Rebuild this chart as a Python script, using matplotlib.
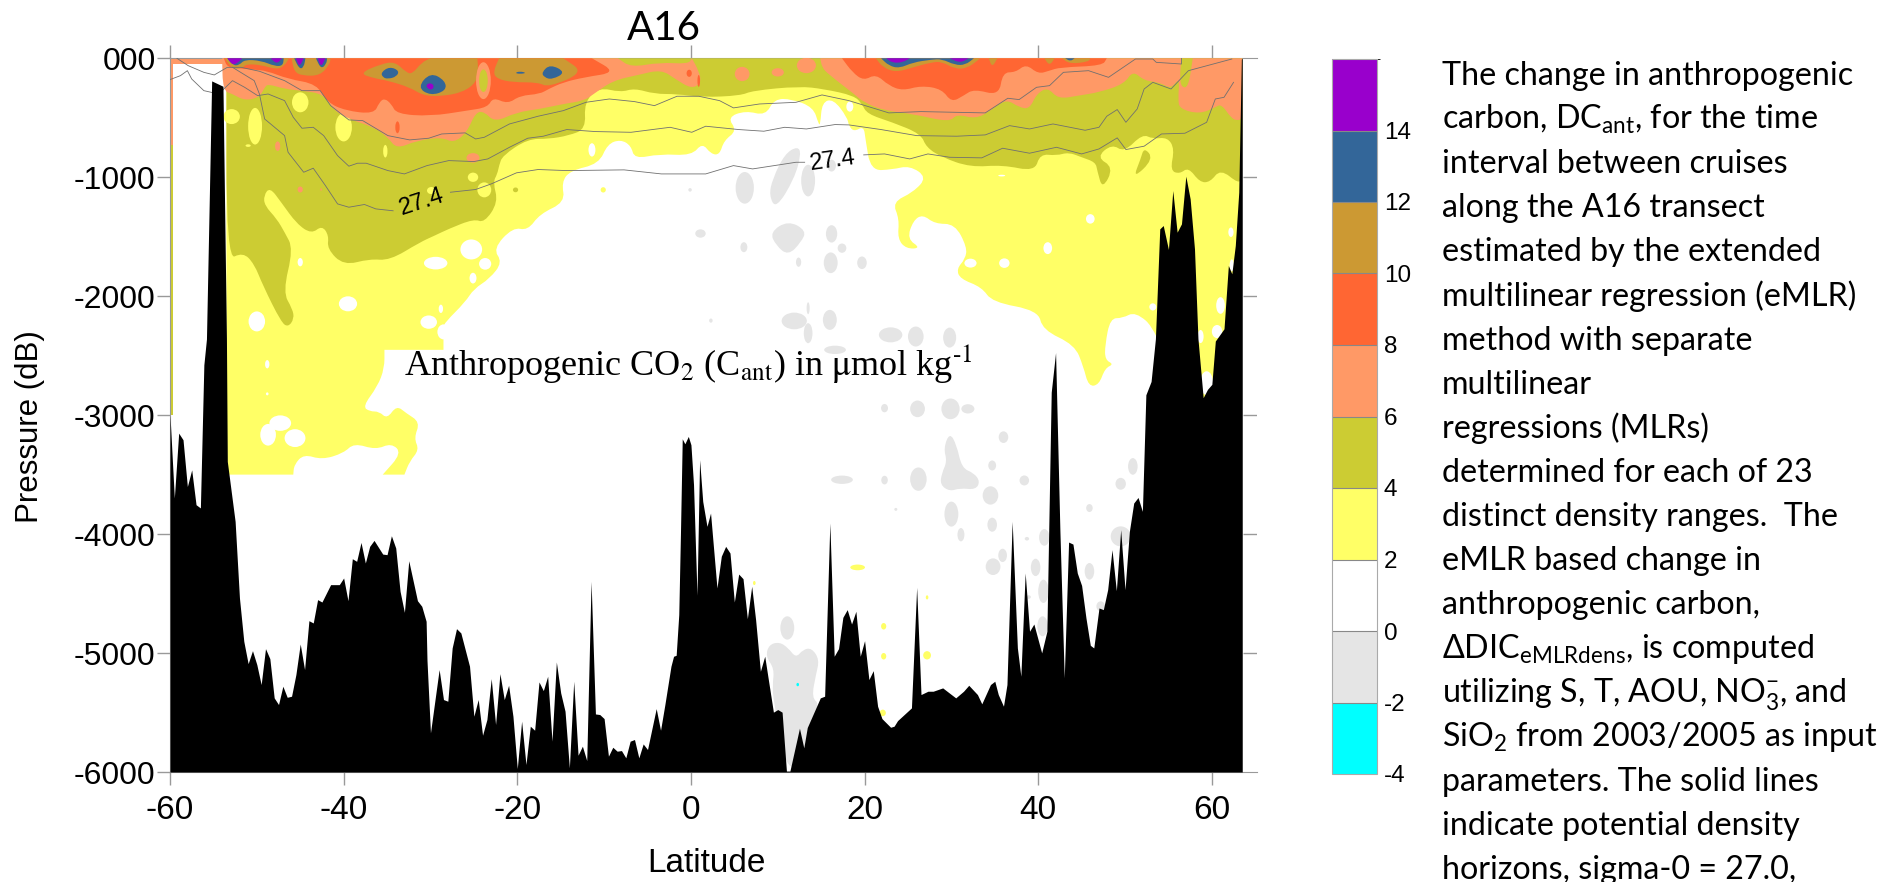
import matplotlib
matplotlib.use("Agg")
import matplotlib.pyplot as plt
import matplotlib as mpl
from matplotlib.colors import ListedColormap, BoundaryNorm
from matplotlib.patches import Ellipse, PathPatch
from matplotlib.path import Path

plt.rcParams['mathtext.fontset'] = 'custom'
plt.rcParams['mathtext.rm'] = 'Lato'
plt.rcParams['mathtext.it'] = 'Lato'
plt.rcParams['mathtext.default'] = 'rm'
plt.rcParams['axes.unicode_minus'] = False

# colour classes, -4 to 16 in steps of 2
levels = [-4, -2, 0, 2, 4, 6, 8, 10, 12, 14, 16]
colors = ['#00FFFF', '#E5E5E5', '#FFFFFF', '#FFFF66', '#CCCC33',
          '#FF9966', '#FF6633', '#CC9933', '#336699', '#9900CC']
CYAN, GRAY, WHITE, YELLOW, OLIVE, LORANGE, RED, BROWN, BLUE, PURPLE = colors

x_ticks = [-60, -40, -20, 0, 20, 40, 60]
y_ticks = [0, -1000, -2000, -3000, -4000, -5000, -6000]
y_labels = ['000', '-1000', '-2000', '-3000', '-4000', '-5000', '-6000']
cbar_ticks = [-4, -2, 0, 2, 4, 6, 8, 10, 12, 14]

# sea floor (latitude, pressure)
bottom = [(-60, -3000), (-59.5, -3697), (-59, -3151), (-58.5, -3207), (-58, -3600), (-57.5, -3460),
          (-57, -3753), (-56.5, -3780), (-56.1, -2577), (-55.8, -2360), (-55.2, -190), (-53.9, -235),
          (-53.5, -2355), (-53.4, -3389), (-52.5, -3893), (-52, -4537), (-51.5, -4901), (-51, -5089),
          (-50.5, -4980), (-50, -5097), (-49.5, -5265), (-49, -4963), (-48.5, -5047), (-48, -5377),
          (-47.5, -5433), (-47, -5279), (-46.5, -5372), (-46, -5363), (-45.5, -5181), (-45, -4924),
          (-44.5, -5139), (-44, -4728), (-43.5, -4747), (-43, -4551), (-42.5, -4571), (-41.5, -4425),
          (-40.5, -4425), (-40, -4369), (-39.5, -4560), (-39, -4207), (-38.5, -4229), (-38, -4070),
          (-37.5, -4243), (-37, -4103), (-36.5, -4053), (-35.5, -4168), (-35, -4173), (-34.5, -4014),
          (-34, -4117), (-33.5, -4481), (-33, -4658), (-32.5, -4224), (-31.5, -4560), (-31, -4607),
          (-30.5, -4733), (-30.4, -5060), (-30, -5671), (-29, -5139), (-28.5, -5391), (-28, -5405),
          (-27.5, -4957), (-27, -4795), (-26.5, -4831), (-25.5, -5111), (-25, -5531), (-24.5, -5391),
          (-24, -5691), (-23.5, -5559), (-23, -5215), (-22.5, -5601), (-22, -5173), (-21.5, -5391),
          (-21, -5271), (-20.5, -5531), (-20, -5971), (-19.5, -5573), (-19, -5937), (-18.5, -5615),
          (-18, -5649), (-17.5, -5243), (-17, -5316), (-16.5, -5195), (-16, -5741), (-15.5, -5075),
          (-15, -5335), (-14.5, -5489), (-14, -5965), (-13.5, -5237), (-13, -5859), (-12.5, -5783),
          (-12, -5904), (-11.5, -4397), (-11, -5512), (-10.5, -5517), (-10, -5551), (-9.5, -5867),
          (-9, -5792), (-8.5, -5825), (-8, -5820), (-7.5, -5881), (-7, -5741), (-6.5, -5727),
          (-6, -5881), (-5.5, -5764), (-5, -5811), (-4, -5467), (-3.5, -5649), (-3, -5433),
          (-2.3, -5111), (-2, -5027), (-1.7, -5019), (-1.4, -4677), (-1.2, -3977), (-1, -3199),
          (-0.7, -3241), (-0.3, -3179), (0, -3249), (0.3, -3585), (0.7, -4515), (1, -3375),
          (1.36, -3725), (1.85, -3935), (2.26, -3823), (3, -4453), (3.5, -4186), (4, -4103),
          (4.5, -4159), (5, -4571), (5.5, -4336), (6, -4375), (6.5, -4711), (7, -4439),
          (7.45, -4719), (8, -5153), (8.5, -5027), (9.5, -5497), (10, -5475), (10.5, -5497),
          (11, -5992), (11.4, -5992), (12.5, -5632), (13, -5797), (13.4, -5626), (14.9, -5377),
          (15.4, -5363), (16, -3907), (16.5, -5027), (17, -4963), (17.5, -4700), (18, -4635),
          (18.5, -4756), (19, -4649), (19.5, -5027), (20, -4896), (20.5, -5223), (21, -5148),
          (21.5, -5447), (22, -5551), (23, -5624), (23.4, -5615), (23.8, -5568), (25.4, -5461),
          (26, -4448), (26.5, -5349), (27.3, -5321), (27.9, -5321), (29, -5293), (30.5, -5377),
          (31.4, -5321), (32, -5271), (33, -5349), (33.5, -5427), (34.5, -5265), (35, -5237),
          (35.4, -5349), (36, -5447), (36.4, -5265), (37, -3893), (37.6, -4957), (38, -5195),
          (38.5, -4327), (39, -4817), (39.5, -4756), (40.4, -4999), (41, -4817), (41.5, -2807),
          (42, -2474), (42.5, -3977), (43, -5209), (43.5, -4067), (44, -4084), (44.5, -4327),
          (45, -4432), (45.5, -4705), (46, -4935), (46.4, -4957), (47, -4621), (47.5, -4635),
          (48, -4467), (48.5, -4131), (49, -4476), (49.5, -3963), (50, -4467), (50.5, -3977),
          (51, -3739), (51.5, -3692), (52, -3809), (52.4, -2829), (53, -2717), (53.5, -2358),
          (54, -1434), (54.4, -1406), (55, -1607), (55.5, -1112), (56, -1462), (56.5, -1392),
          (57, -991), (57.5, -1182), (58, -1602), (58.4, -2358), (59, -2853), (59.5, -2783),
          (60, -2741), (60.4, -2377), (61.4, -2274), (61.9, -1742), (62.3, -1812), (62.7, -1574),
          (63.1, -1126), (63.4, -6), (63.5, 0)]

# outer edges of each class
yellow_edge = [(-53.5, 0), (-53.5, -3500), (-45.8, -3500), (-45.7, -3417), (-44.6, -3328), (-42.5, -3375),
               (-40, -3319), (-38.8, -3235), (-36.3, -3291), (-34.5, -3235), (-33.3, -3319), (-35.5, -3500),
               (-33, -3500), (-32.4, -3389), (-31.3, -3291), (-31.9, -3193), (-31.2, -3059), (-32.8, -2983),
               (-33.9, -2919), (-35, -3031), (-35.9, -2969), (-37, -2969), (-37.8, -2927), (-36.1, -2759),
               (-35.3, -2605), (-35.3, -2451), (-28.5, -2451), (-28.5, -2260), (-28.3, -2218), (-26, -2050),
               (-25, -1938), (-23.2, -1854), (-21.7, -1714), (-22.8, -1602), (-20.5, -1420), (-18.8, -1448),
               (-17.4, -1308), (-14.5, -1210), (-14.9, -1042), (-13.9, -944), (-10.6, -888), (-9.6, -720),
               (-8.1, -683), (-6.9, -734), (-6.5, -846), (-3.6, -804), (0.1, -818), (1.3, -711), (2.3, -804),
               (3.3, -812), (3.8, -692), (5.3, -608), (4.2, -496), (6.3, -440), (8.6, -482), (9.6, -342),
               (11.6, -342), (14.1, -412), (14.7, -552), (14.9, -560), (15.1, -370), (16.4, -342), (18, -496),
               (18.2, -571), (18.8, -616), (19.9, -571), (20.1, -678), (20.7, -944), (23.2, -935), (25.2, -902),
               (27.2, -1000), (25.6, -1126), (23.2, -1210), (24, -1350), (23.8, -1518), (24.8, -1602),
               (26.5, -1596), (24.9, -1518), (25.6, -1364), (26.7, -1313), (28.1, -1392), (30.4, -1392),
               (31.8, -1588), (31.6, -1686), (30.6, -1770), (31, -1854), (33.5, -1924), (34.7, -2050),
               (40, -2120), (40.5, -2283), (44.2, -2409), (45.2, -2591), (45.8, -2759), (47, -2745),
               (47.7, -2605), (48.7, -2572), (47.7, -2535), (47.7, -2409), (48.3, -2185), (49.7, -2185),
               (51.2, -2129), (53.6, -2283), (57, -3000), (62, -3000), (63.5, -1000), (63.5, 0)]

olive_edge = [(-53.5, 0), (-53.5, -1700), (-51.6, -1630), (-50.3, -1728), (-49.3, -1910), (-47.2, -2218),
              (-46.4, -2260), (-45.7, -2190), (-45.9, -2106), (-47, -1966), (-45.8, -1602), (-46.8, -1462),
              (-47.7, -1350), (-49.1, -1238), (-49.2, -1154), (-48.5, -1084), (-47.2, -1210), (-45.4, -1392),
              (-43.7, -1476), (-42.5, -1406), (-41.7, -1490), (-41.9, -1602), (-40, -1742), (-37, -1686),
              (-34.7, -1700), (-31.2, -1546), (-29.5, -1490), (-27.9, -1434), (-25, -1350), (-23.8, -1383),
              (-22.2, -1210), (-22.8, -1042), (-22.3, -972), (-22.1, -902), (-21.7, -818), (-18.8, -678),
              (-16.4, -678), (-14.1, -650), (-12.1, -594), (-12.3, -370), (-10.6, -244), (-8.1, -286),
              (-6.5, -252), (-4.2, -300), (-1.6, -300), (1.3, -328), (5.7, -314), (7.1, -272), (12.5, -235),
              (15.3, -258), (18.8, -314), (19.7, -384), (20.3, -468), (23.2, -538), (26.5, -636), (27.1, -748),
              (28.9, -832), (32.2, -916), (35.9, -896), (39.6, -952), (40.2, -804), (42.1, -818), (43.5, -790),
              (45, -832), (46.6, -874), (46.8, -944), (47.4, -1103), (48.7, -916), (46.7, -832), (48.5, -720),
              (49.9, -790), (52, -636), (53.2, -678), (54.9, -664), (55.7, -762), (55.2, -944), (56.3, -972),
              (57.3, -916), (58.6, -1042), (59.8, -1042), (61, -930), (63.1, -1056), (63.5, -1000), (63.5, 0)]
olive_patch = [(52.2, -748), (53.3, -846), (50.9, -1014), (51.8, -846)]
olive_strip = [(56.5, 0), (57.8, 0), (57.3, -244), (56.5, -244), (56.3, -160)]

lorange_west = [(-54, 0), (-53.9, -272), (-52.8, -300), (-51.4, -356), (-49.7, -328), (-49.1, -244), (-48.7, -216),
                (-46.8, -258), (-44.8, -272), (-42.3, -300), (-41.1, -440), (-39.4, -510), (-36.5, -580),
                (-34.9, -664), (-33.9, -762), (-31.6, -692), (-28.7, -664), (-27.3, -711), (-25.8, -622),
                (-24.8, -454), (-23.8, -448), (-22.6, -538), (-20.1, -454), (-17.4, -426), (-14.7, -384),
                (-12.3, -356), (-11.2, -300), (-9, -188), (-6.1, -140), (-3.4, -95), (-1.8, -174), (0.1, -258),
                (1.2, -202), (0.9, -104), (0.1, 0), (-0.3, -48), (-3.6, -34), (-6.9, -76), (-8.4, 0)]
lorange_east = [(14.9, 0), (15.1, -76), (15.8, -132), (18.8, -300), (19.9, -370), (22.3, -440), (25.6, -468),
                (29.8, -538), (30.6, -468), (32.8, -510), (34.5, -440), (36.3, -342), (37.8, -412), (39, -426),
                (39.8, -300), (41.1, -244), (42.3, -342), (44.6, -314), (47, -286), (49.9, -216), (50.9, -104),
                (52.2, -188), (54, -202), (55.3, -258), (56.3, -160), (56.1, -342), (56.3, -426), (58.6, -468),
                (60.4, -412), (61.1, -384), (62.3, -510), (63.1, -524), (63.5, -500), (63.5, 0)]

red_west = [(-53.8, 0), (-53.4, -76), (-52, -84), (-50.5, -95), (-48.9, -104), (-46.4, -174), (-43.1, -216),
            (-41.9, -370), (-39.8, -440), (-36.5, -468), (-35.9, -370), (-35.3, -336), (-34.5, -384), (-33.9, -468),
            (-30, -487), (-25.8, -440), (-23.4, -412), (-22.8, -328), (-21.1, -384), (-19.7, -314), (-17.4, -300),
            (-16.4, -258), (-14.7, -202), (-12.3, -160), (-8.6, -118), (-11.4, 0)]
red_east = [(17.4, 0), (18.6, -118), (19.9, -188), (21.3, -132), (22.8, -230), (24.4, -272), (26.5, -230),
            (28.9, -258), (30, -370), (31.4, -314), (32.6, -258), (35.5, -314), (35.9, -118), (37.4, -118),
            (38.6, -48), (40, -132), (41.3, -104), (42.5, -76), (47.4, -62), (47.9, 0)]

brown_areas = [
    [(-53.7, 0), (-52.8, -90), (-51.7, -84), (-51.2, -48), (-49.5, -56), (-47.7, -95), (-46.8, -62), (-46.3, 0)],
    [(-46, 0), (-45.7, -112), (-44.8, -146), (-42.7, -146), (-41.6, -48), (-41.5, 0)],
    [(-38.2, -126), (-35.7, -48), (-34.1, -28), (-32.8, -118), (-32.1, -132), (-31, -34), (-30, 0), (-24.6, 0),
     (-24.5, -90), (-24.7, -202), (-26.3, -286), (-28.7, -319), (-30.8, -314), (-32.4, -244), (-34.9, -188), (-36.5, -168)],
    [(-22.1, 0), (-14.7, 0), (-12.3, -118), (-16.4, -244), (-17.6, -202), (-20.5, -202), (-22.3, -174), (-22.8, -118)],
    [(21.3, 0), (22.1, -76), (23.6, -118), (25.6, -76), (27.7, -34), (28.9, -28), (30.4, -90), (31.8, -84), (33, -20), (33.3, 0)],
    [(34.3, 0), (34.7, -76), (35.3, 0)],
    [(40.7, 0), (41.3, -62), (41.9, 0)],
    [(42.7, 0), (43.7, -48), (45.8, -28), (46, 0)],
]
blue_areas = [
    [(-53.4, 0), (-52.7, -62), (-52, -56), (-51.4, -11), (-49.5, -20), (-47.9, -67), (-47, -62), (-46.9, 0)],
    [(-45.7, 0), (-45.1, -90), (-44.6, -76), (-44.4, 0)],
    [(-43.2, 0), (-42.6, -90), (-42, -48), (-41.9, 0)],
    [(-35.7, -118), (-34.7, -70), (-33.6, -104), (-33.9, -154), (-34.9, -174), (-35.5, -160)],
    [(-31.5, -244), (-30, -118), (-28.3, -188), (-28.2, -272), (-30, -314)],
    [(-20.3, -123), (-19.7, -109), (-18.9, -123), (-19.7, -132)],
    [(-17.2, -118), (-16.2, -50), (-14.4, -118), (-16, -179), (-16.9, -160)],
    [(21.9, 0), (22.8, -62), (24, -84), (25.6, -34), (27.7, -11), (28.9, -6), (30.4, -56), (31.6, -56), (32.6, 0)],
    [(43.1, 0), (43.7, -25), (44.2, 0)],
]
purple_areas = [
    [(-53.4, 0), (-52.8, -56), (-52.2, -39), (-51.7, 0)],
    [(-48.4, 0), (-47.7, -48), (-47.1, 0)],
    [(-45.5, 0), (-45.1, -76), (-44.6, 0)],
    [(-43, 0), (-42.6, -76), (-42.1, 0)],
    [(-30.6, -230), (-30, -202), (-29.5, -238), (-30, -272)],
    [(22.5, 0), (23.2, -39), (24.4, -34), (25.2, 0)],
    [(29.8, 0), (31, -39), (32, 0)],
]
gray_areas = [
    [(12.3, -739), (12.7, -804), (11.9, -1014), (9.8, -1266), (9, -1154), (9.4, -1014), (10.8, -804)],
    [(9.1, -1462), (11.2, -1364), (13.3, -1448), (12.7, -1546), (11.2, -1658), (9.8, -1574)],
    [(29.8, -3146), (30.6, -3249), (31.2, -3445), (32.6, -3487), (33.3, -3557), (32.8, -3627), (31, -3613),
     (29.8, -3641), (28.7, -3585), (28.9, -3487), (29.5, -3389), (29.1, -3277)],
    [(8.6, -5027), (9, -4929), (10.2, -4907), (11.2, -4957), (12.1, -5041), (12.9, -4971), (13.9, -4957),
     (14.8, -5055), (14.4, -5181), (13.9, -5377), (14.9, -5433), (13, -5900), (11, -6000), (9.5, -5400),
     (9.4, -5270), (9.6, -5130)],
]

# small closed patches (latitude, pressure, width in degrees, height in dB)
white_spots = [(-11.4, -770, .8, 112), (-25.3, -1607, 2.5, 168), (-29.4, -1722, 2.7, 106), (-23.7, -1728, 1.4, 98),
               (-25.1, -1848, .8, 90), (-39.5, -2064, 2.1, 126), (-50, -2212, 1.9, 168), (-45, -1714, .6, 70),
               (-30.2, -2218, 1.9, 112), (-28.8, -2106, .5, 70), (-28.5, -2300, 1.4, 126), (-48.8, -2572, .5, 70),
               (-48.8, -2821, .3, 25), (-48.7, -3165, 1.8, 182), (-47.3, -3067, 2.5, 130), (-45.6, -3193, 2.4, 150),
               (18.3, -406, .8, 85), (35.8, -986, .8, 14), (46, -1350, 1, 80), (41.1, -1596, 1, 100),
               (36.1, -1722, 1.2, 80), (32.2, -1722, 1.4, 75), (62.2, -1462, .6, 80), (62.3, -1740, .5, 100),
               (53.2, -2090, .8, 60), (61, -2078, 1, 140), (58.7, -2339, .7, 110), (60.6, -2297, 1.2, 110),
               (59.4, -2731, 1.5, 200)]
yellow_spots = [(-45, -370, 1.9, 168), (-52.9, -490, 1.9, 126), (-50.2, -571, 1.6, 308), (-40, -580, 1.9, 238),
                (-35.2, -781, .5, 106), (-51, -734, .6, 22), (-25.1, -1000, 1.2, 78), (-23.8, -1106, 1.6, 126),
                (-29.9, -1112, 1, 60), (-10.1, -1106, .6, 45), (7.3, -4411, .3, 35), (19.2, -4280, 1.7, 48),
                (22.2, -4775, .6, 55), (22.2, -5027, .6, 55), (27.2, -5019, .9, 70), (27.2, -4532, .3, 35),
                (22.1, -5503, .7, 55)]
olive_spots = [(-50.3, -1616, .7, 84), (-20.2, -1106, .6, 40), (60.9, -2440, .7, 150), (-23.9, -188, 1, 190)]
lorange_spots = [(-47.6, -739, .6, 80), (-45, -1103, .6, 50), (-25.1, -837, 1.5, 80), (-42.6, -1103, .2, 20),
                 (5.9, -132, 1.7, 120), (10, -118, 1.4, 70), (13.3, -60, 2.2, 130), (-23.9, -188, 1.7, 310)]
red_spots = [(-0.2, -126, .6, 60), (-33.8, -580, .5, 100), (0.9, -190, .3, 100)]
gray_spots = [(-0.1, -1106, .4, 30), (1.1, -1473, 1.2, 70), (6.2, -1089, 2.1, 266), (13.5, -1028, 1.6, 266),
              (16.2, -902, 1, 100), (16.2, -1476, 1.3, 146), (17.4, -1596, 1, 78), (16.1, -1719, 1.6, 174),
              (19.7, -1719, 1.1, 106), (6.1, -1588, .8, 84), (12.4, -1714, .6, 78), (11.9, -2208, 2.9, 140),
              (13.5, -2101, .35, 100), (13.5, -2311, 1, 168), (16, -2199, 1.6, 168), (2.3, -2205, .4, 35),
              (23, -2325, 2.7, 126), (25.9, -2339, 1.8, 168), (29.8, -2348, 1.5, 168), (16.6, -2451, 2.5, 70),
              (22.3, -2941, .8, 70), (26.1, -2947, 1.7, 140), (29.9, -2947, 2.1, 174), (31.9, -2947, 1.5, 78),
              (36, -3185, 1.1, 98), (17.4, -3543, 2.5, 70), (22.3, -3546, .75, 73), (26.2, -3538, 1.9, 196),
              (34.7, -3423, .9, 84), (38.4, -3549, 1.1, 84), (34.5, -3675, 1.8, 154), (30, -3832, 1.6, 210),
              (23.6, -3792, .35, 25), (34.7, -3921, 1.1, 118), (31.1, -4005, .8, 112), (35.9, -4179, 1, 112),
              (34.8, -4274, 1.7, 140), (39.7, -4280, 1.1, 146), (38.7, -4039, .5, 30), (40.7, -4028, 1.2, 140),
              (50.9, -3431, 1.1, 140), (49.5, -3577, 1.2, 100), (45.9, -3781, .75, 67), (49.5, -4019, 2.3, 168),
              (45.9, -4313, 1.1, 140), (40.6, -4481, 1.2, 196), (40.5, -4775, 1.2, 168), (47.2, -4607, 1, 84),
              (38.9, -4529, .5, 30), (11.1, -4789, 1.6, 196)]
cyan_spots = [(12.3, -5265, .3, 28)]

# potential density horizons
sigma_a = [(-59.2, 0), (-57.9, -62), (-56.1, -118), (-54.9, -140), (-53.4, -76), (-51.8, -76), (-49.7, -109), (-46.8, -188),
           (-44.8, -272), (-42.7, -272), (-41.5, -398), (-39.4, -518), (-37.8, -524), (-34.9, -650), (-32.4, -686),
           (-30.2, -672), (-28.7, -636), (-26, -627), (-24.8, -678), (-23.8, -664), (-20.9, -552), (-17.6, -487),
           (-14.7, -440), (-12.1, -370), (-9.4, -342), (-6.5, -364), (-4.2, -398), (-1.6, -319), (0.9, -319), (3.3, -356),
           (4.9, -417), (7.9, -384), (12.1, -370), (15.1, -308), (18.2, -356), (22.8, -459), (26.5, -448), (33.9, -459),
           (36.5, -336), (37.8, -347), (39.8, -244), (41.3, -230), (42.9, -118), (45.8, -104), (48.1, -160), (51.2, -6),
           (53.2, -6), (53.6, -34), (56.5, -48), (56.5, 0)]
sigma_b = [(-60, -179), (-58.8, -146), (-58, -104), (-57.5, -174), (-56.1, -272), (-54.4, -300), (-52.8, -188), (-51.4, -244),
           (-49.9, -314), (-48.7, -300), (-46.8, -356), (-45.8, -496), (-44.8, -588), (-43.5, -580), (-42.3, -650), (-40.7, -818),
           (-39.4, -907), (-38.4, -882), (-37.4, -882), (-34.9, -944), (-33, -972), (-30.4, -902), (-27.9, -860), (-25, -868),
           (-23.4, -846), (-20.9, -748), (-18.8, -672), (-17, -655), (-14.3, -599), (-11, -616), (-6.9, -622), (-2.4, -580),
           (0.1, -622), (1.7, -571), (5.5, -599), (8.4, -613), (10.8, -580), (13.3, -594), (16.6, -557), (18.2, -560), (21.9, -599),
           (26, -650), (30.6, -655), (33.9, -644), (36.7, -566), (39, -594), (41.7, -552), (45.4, -605), (47, -580), (47.9, -487),
           (49.1, -431), (50.1, -538), (51.4, -426), (52.2, -258), (53.2, -202), (55.3, -258), (57.3, -104), (62.3, -6)]
sigma_c1 = [(-52.8, -76), (-50.3, -188), (-49.7, -300), (-49.1, -510), (-46.8, -650), (-46.4, -790), (-44.6, -958), (-43.5, -924),
            (-42.1, -1070), (-40.7, -1224), (-39.4, -1252), (-37.6, -1229), (-36.3, -1266), (-34.3, -1282)]
sigma_c2 = [(-27.7, -1126), (-24.8, -1103), (-23, -1056), (-20.1, -963), (-17.6, -935), (-14.3, -944), (-7.7, -938), (-3.4, -972),
            (1.7, -972), (4.9, -902), (7.1, -930), (12.1, -874), (13.1, -874)]
sigma_c3 = [(19.9, -812), (22.3, -804), (25.2, -846), (27.3, -804), (29.8, -832), (33.5, -837), (35.9, -756), (39, -798),
            (42.1, -748), (45, -804), (47, -762), (49.1, -669), (50.1, -767), (52.2, -739), (54.2, -636), (56.9, -630),
            (59.4, -538), (60.4, -342), (61.4, -328), (62.5, -202)]

caption = ['The change in anthropogenic',
           'carbon, DC$_{ant}$, for the time',
           'interval between cruises',
           'along the A16 transect',
           'estimated by the extended',
           'multilinear regression (eMLR)',
           'method with separate',
           'multilinear',
           'regressions (MLRs)',
           'determined for each of 23',
           'distinct density ranges.  The',
           'eMLR based change in',
           'anthropogenic carbon,',
           '\u0394DIC$_{eMLRdens}$, is computed',
           'utilizing S, T, AOU, NO$_3^{-}$, and',
           'SiO$_2$ from 2003/2005 as input',
           'parameters. The solid lines',
           'indicate potential density',
           'horizons, sigma-0 = 27.0,']

# edges stay sharp where the section itself is cut off
SHARP = (0, -3500, -2451)


def area(ax, pts, color, zorder=1):
    # closed outline, rounded with quadratic curves through the edge midpoints
    n = len(pts)
    mid = [((pts[i][0] + pts[(i + 1) % n][0]) / 2, (pts[i][1] + pts[(i + 1) % n][1]) / 2) for i in range(n)]
    verts = [mid[-1]]
    codes = [Path.MOVETO]
    for i in range(n):
        if pts[i][1] in SHARP:
            verts += [pts[i], mid[i]]
            codes += [Path.LINETO, Path.LINETO]
        else:
            verts += [pts[i], mid[i]]
            codes += [Path.CURVE3, Path.CURVE3]
    ax.add_patch(PathPatch(Path(verts, codes), facecolor=color, edgecolor='none', lw=0, zorder=zorder))


def spots(ax, items, color, zorder):
    for lat, p, w, h in items:
        ax.add_patch(Ellipse((lat, p), w, h, color=color, lw=0, zorder=zorder))


W, H = 1904, 882
fig = plt.figure(figsize=(W / 100, H / 100), dpi=100)
ax = fig.add_axes([170 / W, 1 - 772 / H, (1257 - 170) / W, (772 - 58.3) / H])

# left hand data column and the shallow band above the empty box
ax.fill_between([-60, -59.7], -3000, 0, color=OLIVE, lw=0, zorder=1)
ax.fill_between([-60, -59.7], -733, 0, color=LORANGE, lw=0, zorder=1.1)
ax.fill_between([-60, -53.5], -50, 0, color=LORANGE, lw=0, zorder=1.1)

area(ax, yellow_edge, YELLOW, 2)
spots(ax, white_spots, WHITE, 2.1)
spots(ax, yellow_spots, YELLOW, 3.1)
area(ax, olive_edge, OLIVE, 3)
area(ax, olive_patch, OLIVE, 3)
spots(ax, olive_spots[:3], OLIVE, 3.2)
area(ax, lorange_west, LORANGE, 4)
area(ax, lorange_east, LORANGE, 4)
spots(ax, lorange_spots[:7], LORANGE, 4.1)
area(ax, olive_strip, OLIVE, 4.2)
area(ax, red_west, RED, 5)
area(ax, red_east, RED, 5)
spots(ax, red_spots, RED, 5.1)
for pts in brown_areas:
    area(ax, pts, BROWN, 6)
spots(ax, lorange_spots[7:], LORANGE, 6.1)
spots(ax, olive_spots[3:], OLIVE, 6.2)
for pts in blue_areas:
    area(ax, pts, BLUE, 7)
for pts in purple_areas:
    area(ax, pts, PURPLE, 8)
for pts in gray_areas:
    area(ax, pts, GRAY, 2.2)
spots(ax, gray_spots, GRAY, 2.3)
spots(ax, cyan_spots, CYAN, 2.4)

for line in (sigma_a, sigma_b, sigma_c1, sigma_c2, sigma_c3):
    lat, p = zip(*line)
    ax.plot(lat, p, color='#707070', lw=0.6, zorder=9)

ax.text(-31, -1210, '27.4', fontsize=17, family='Liberation Sans', rotation=18, ha='center', va='center', zorder=10)
ax.text(16.4, -860, '27.4', fontsize=17, family='Liberation Sans', rotation=8, ha='center', va='center', zorder=10)

# sea floor on top of everything
lat, p = zip(*bottom)
ax.fill_between(lat, p, -6000, color='black', lw=0, zorder=11)

ax.text(-33, -2670, r'Anthropogenic CO$_2$ (C$_{\mathrm{ant}}$) in $\mathrm{\mu}$mol kg$^{\text{-}1}$', fontsize=26,
        family='Liberation Serif', math_fontfamily='stix', ha='left', va='baseline', zorder=12)

ax.set_xlim(-60, 65.2)
ax.set_ylim(-6000, 0)
ax.set_xticks(x_ticks)
ax.set_yticks(y_ticks)
ax.set_yticklabels(y_labels)
ax.tick_params(axis='both', top=True, length=9.4, width=1, color='#999999')
ax.tick_params(axis='x', labelsize=24, pad=7)
ax.tick_params(axis='y', labelsize=23, pad=1)
plt.setp(ax.get_xticklabels() + ax.get_yticklabels(), family='Liberation Sans')
for side in ax.spines:
    ax.spines[side].set_color('#999999')
ax.spines['right'].set_visible(False)
# short ticks on the far side, starting where the section ends
ax.hlines(y_ticks[1:-1], 63.6, 65.2, color='#999999', lw=1, zorder=1)

fig.text(706 / W, 1 - 864 / H, 'Latitude', family='Liberation Sans', fontsize=24, ha='center', va='center')
fig.text(30 / W, 1 - 427 / H, 'Pressure (dB)', family='Liberation Sans', fontsize=22.5, rotation=90, ha='center', va='center')
fig.text(664 / W, 1 - 29 / H, 'A16', family='Lato', fontsize=29, ha='center', va='center')

# colour key
cax = fig.add_axes([1332 / W, 1 - 774 / H, 45 / W, (774 - 59) / H])
cmap = ListedColormap(colors)
norm = BoundaryNorm(levels, cmap.N)
cb = mpl.colorbar.ColorbarBase(cax, cmap=cmap, norm=norm, boundaries=levels, ticks=cbar_ticks, drawedges=True)
cb.dividers.set_color('#888888')
cb.dividers.set_linewidth(0.8)
cb.outline.set_edgecolor('#aaaaaa')
cb.outline.set_linewidth(0.8)
cb.ax.tick_params(length=0, labelsize=17.5, pad=5)
plt.setp(cb.ax.get_yticklabels(), family='Liberation Sans')

# side text, one line at a time
for i, line in enumerate(caption):
    fig.text(1442 / W, 1 - (85 + i * 44.1) / H, line, family=['Lato', 'DejaVu Sans'], fontsize=23.2,
             ha='left', va='baseline', math_fontfamily='custom')

fig.savefig('out.png', dpi=100)
